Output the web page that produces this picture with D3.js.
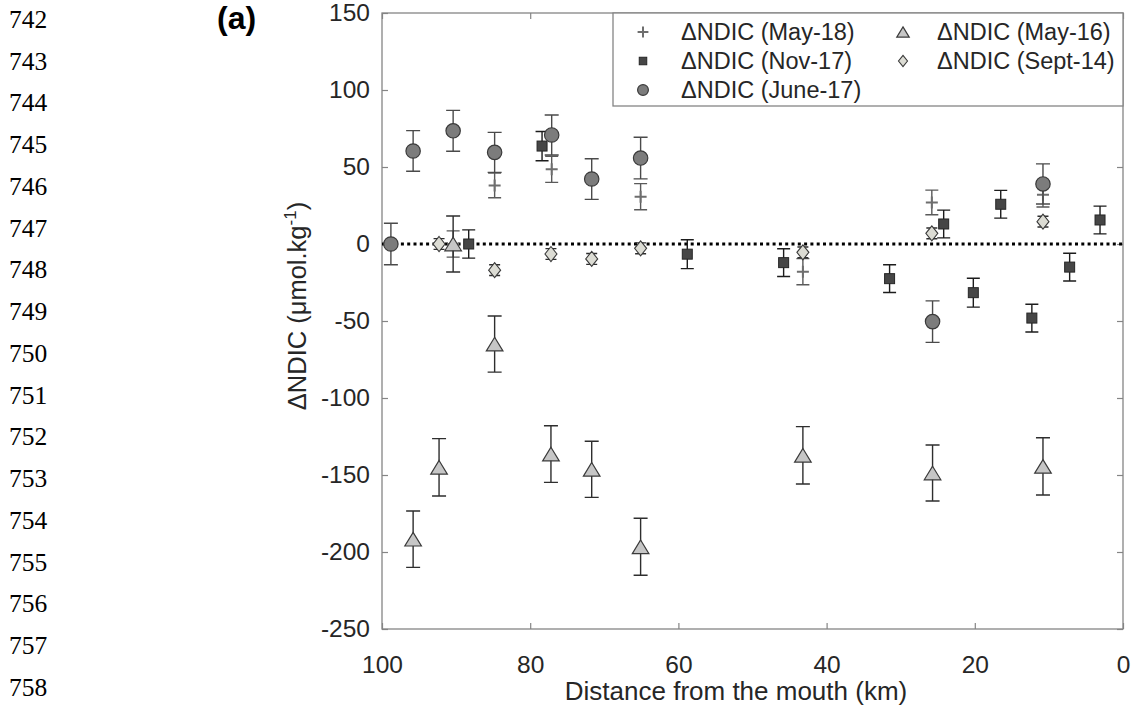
<!DOCTYPE html>
<html>
<head>
<meta charset="utf-8">
<script src="https://cdn.jsdelivr.net/npm/d3@7"></script>
<style>
  html, body { margin: 0; padding: 0; background: #fff; }
  svg { display: block; }
</style>
</head>
<body>
<svg id="chart" width="1131" height="708"></svg>
<script>
// ---------- DATA ----------
const xTicks = [100, 80, 60, 40, 20, 0];
const yTicks = [150, 100, 50, 0, -50, -100, -150, -200, -250];
const lineNumbers = [742,743,744,745,746,747,748,749,750,751,752,753,754,755,756,757,758];

// ΔNDIC (May-18)  plus
const may18X   = [90.4, 84.8, 77.1, 65.1, 43.2, 25.8, 10.8];
const may18Y   = [0, 38, 48.5, 30.7, -18, 27, 32];
const may18Err = [8.5, 8, 8.5, 8.5, 8.5, 8, 8];

// ΔNDIC (Nov-17)  square
const nov17X   = [88.3, 78.4, 58.8, 45.8, 31.5, 24.2, 20.2, 16.5, 12.3, 7.2, 3.1];
const nov17Y   = [0, 63.6, -6.6, -12.1, -22.5, 13, -31.6, 25.8, -48.1, -15, 15.6];
const nov17Err = [9.2, 9.5, 9.4, 9, 9, 9, 9.4, 9, 9, 9, 9];

// ΔNDIC (June-17) circle
const jun17X   = [98.8, 95.8, 90.4, 84.8, 77.1, 71.7, 65.1, 25.7, 10.8];
const jun17Y   = [0, 60.4, 73.5, 59.5, 70.8, 42.2, 55.8, -50.4, 39];
const jun17Err = [13.5, 13.2, 13.3, 13, 13, 13.2, 13.5, 13.5, 13];

// ΔNDIC (May-16)  triangle
const may16X   = [95.8, 92.3, 90.4, 84.8, 77.2, 71.7, 65.1, 43.2, 25.7, 10.8];
const may16Y   = [-191.7, -145, 0, -65, -136.4, -146.3, -196.6, -137.2, -148.7, -144.4];
const may16Err = [18.3, 18.6, 18.2, 18.2, 18.4, 18.2, 18.5, 18.6, 18.2, 18.6];

// ΔNDIC (Sept-14) diamond
const sep14X   = [92.3, 84.8, 77.2, 71.7, 65.1, 43.2, 25.8, 10.8];
const sep14Y   = [0, -17, -6.5, -9.7, -2.8, -5.4, 6.9, 14.5];
const sep14Err = [3.5, 3.5, 3.5, 3.5, 3.5, 3.5, 3.5, 3.5];

const legendLabels = ["ΔNDIC (May-18)", "ΔNDIC (Nov-17)", "ΔNDIC (June-17)", "ΔNDIC (May-16)", "ΔNDIC (Sept-14)"];

// ---------- LAYOUT ----------
const svg = d3.select("#chart");
const L = 382, R = 1123, T = 13, B = 629;
const x = d3.scaleLinear().domain([100, 0]).range([L, R]);
const y = d3.scaleLinear().domain([-250, 150]).range([B, T]);
const FONT = "'Liberation Sans', Arial, Helvetica, sans-serif";
const frameColor = "#858585";
const textColor = "#262626";
const fmt = d => String(d);  // plain hyphen-minus, as in the reference

// line numbers
svg.append("g").selectAll("text").data(lineNumbers).join("text")
  .attr("x", 9).attr("y", (d, i) => 19 + i * 41.75)
  .attr("dy", "0.35em")
  .attr("font-family", "'Liberation Serif', 'Times New Roman', serif")
  .attr("font-size", 25.5).attr("fill", "#000")
  .text(d => d);

// panel tag
svg.append("text").attr("x", 217).attr("y", 29)
  .attr("font-family", FONT).attr("font-weight", "bold")
  .attr("font-size", 32).attr("fill", "#000").text("(a)");

// axes
function styleAxis(g, showText) {
  g.select(".domain").remove();
  g.selectAll(".tick line").attr("stroke", frameColor).attr("stroke-width", 1.2);
  g.selectAll(".tick text").attr("font-family", FONT).attr("font-size", 24.5)
    .attr("fill", textColor);
  if (!showText) g.selectAll(".tick text").remove();
}
svg.append("g").attr("transform", `translate(0,${B})`)
  .call(d3.axisBottom(x).tickValues(xTicks).tickSize(-6).tickPadding(27).tickFormat(fmt))
  .call(g => styleAxis(g, true));
svg.append("g").attr("transform", `translate(0,${T})`)
  .call(d3.axisTop(x).tickValues(xTicks).tickSize(-6))
  .call(g => styleAxis(g, false));
svg.append("g").attr("transform", `translate(${L},0)`)
  .call(d3.axisLeft(y).tickValues(yTicks).tickSize(-6).tickPadding(12).tickFormat(fmt))
  .call(g => styleAxis(g, true));
svg.append("g").attr("transform", `translate(${R},0)`)
  .call(d3.axisRight(y).tickValues(yTicks).tickSize(-6))
  .call(g => styleAxis(g, false));

// frame
svg.append("rect").attr("x", L).attr("y", T).attr("width", R - L).attr("height", B - T)
  .attr("fill", "none").attr("stroke", frameColor).attr("stroke-width", 1.3);

// axis labels
svg.append("text").attr("x", 736).attr("y", 700)
  .attr("text-anchor", "middle").attr("font-family", FONT).attr("font-size", 26)
  .attr("fill", textColor).text("Distance from the mouth (km)");

const yl = svg.append("text")
  .attr("transform", `translate(306,306) rotate(-90)`)
  .attr("text-anchor", "middle").attr("font-family", FONT).attr("font-size", 25.5)
  .attr("fill", textColor);
yl.append("tspan").text("ΔNDIC (μmol.kg");
yl.append("tspan").attr("font-size", 17).attr("dy", -10).text("-1");
yl.append("tspan").attr("dy", 10).text(")");

// zero dotted line
svg.append("line").attr("x1", L).attr("x2", R).attr("y1", y(0)).attr("y2", y(0))
  .attr("stroke", "#000").attr("stroke-width", 3.2).attr("stroke-dasharray", "3,3.3");

// ---------- SERIES ----------
const series = [
  { X: may18X, Y: may18Y, E: may18Err, shape: "plus",     fill: "none",    stroke: "#6e6e6e", err: "#5a5a5a", cap: 13 },
  { X: nov17X, Y: nov17Y, E: nov17Err, shape: "square",   fill: "#464646", stroke: "#262626", err: "#1c1c1c", cap: 13 },
  { X: jun17X, Y: jun17Y, E: jun17Err, shape: "circle",   fill: "#7c7c7c", stroke: "#3a3a3a", err: "#4a4a4a", cap: 14 },
  { X: may16X, Y: may16Y, E: may16Err, shape: "triangle", fill: "#c6c6c6", stroke: "#3a3a3a", err: "#2e2e2e", cap: 14 },
  { X: sep14X, Y: sep14Y, E: sep14Err, shape: "diamond",  fill: "#dcdcd4", stroke: "#3a3a3a", err: "#2e2e2e", cap: 11 }
];

function marker(g, shape, s, fill, stroke) {
  if (shape === "plus") {
    g.append("path").attr("d", `M${-6*s},0H${6*s}M0,${-6*s}V${6*s}`)
      .attr("stroke", stroke).attr("stroke-width", 2).attr("fill", "none");
  } else if (shape === "square") {
    g.append("rect").attr("x", -5*s).attr("y", -5*s).attr("width", 10*s).attr("height", 10*s)
      .attr("fill", fill).attr("stroke", stroke).attr("stroke-width", 1);
  } else if (shape === "circle") {
    g.append("circle").attr("r", 7.2*s).attr("fill", fill).attr("stroke", stroke).attr("stroke-width", 1.2);
  } else if (shape === "triangle") {
    g.append("path").attr("d", `M0,${-6.8*s}L${8.3*s},${6.8*s}L${-8.3*s},${6.8*s}Z`)
      .attr("fill", fill).attr("stroke", stroke).attr("stroke-width", 1.2);
  } else if (shape === "diamond") {
    g.append("path").attr("d", `M0,${-7.5*s}L${6*s},0L0,${7.5*s}L${-6*s},0Z`)
      .attr("fill", fill).attr("stroke", stroke).attr("stroke-width", 1.1);
  }
}

series.forEach(sr => {
  const g = svg.append("g");
  sr.X.forEach((xv, i) => {
    const cx = x(xv), top = y(sr.Y[i] + sr.E[i]), bot = y(sr.Y[i] - sr.E[i]);
    const h = sr.cap / 2;
    g.append("path")
      .attr("d", `M${cx},${top}V${bot}M${cx - h},${top}H${cx + h}M${cx - h},${bot}H${cx + h}`)
      .attr("stroke", sr.err).attr("stroke-width", 1.4).attr("fill", "none");
  });
  sr.X.forEach((xv, i) => {
    const m = g.append("g").attr("transform", `translate(${x(xv)},${y(sr.Y[i])})`);
    marker(m, sr.shape, 1, sr.fill, sr.stroke);
  });
});

// ---------- LEGEND ----------
const lg = svg.append("g");
lg.append("rect").attr("x", 613).attr("y", T).attr("width", R - 613).attr("height", 106 - T)
  .attr("fill", "#fff").attr("stroke", frameColor).attr("stroke-width", 1.3);
const legendPos = [
  { mx: 643, tx: 681, yy: 32 },
  { mx: 643, tx: 681, yy: 61 },
  { mx: 643, tx: 681, yy: 90 },
  { mx: 903, tx: 937, yy: 32 },
  { mx: 903, tx: 937, yy: 61 }
];
series.forEach((sr, i) => {
  const p = legendPos[i];
  const m = lg.append("g").attr("transform", `translate(${p.mx},${p.yy})`);
  marker(m, sr.shape, sr.shape === "plus" ? 0.9 : 0.75, sr.fill, sr.stroke);
  lg.append("text").attr("x", p.tx).attr("y", p.yy).attr("dy", "0.35em")
    .attr("font-family", FONT).attr("font-size", 23.5).attr("fill", textColor)
    .text(legendLabels[i]);
});
</script>
</body>
</html>
